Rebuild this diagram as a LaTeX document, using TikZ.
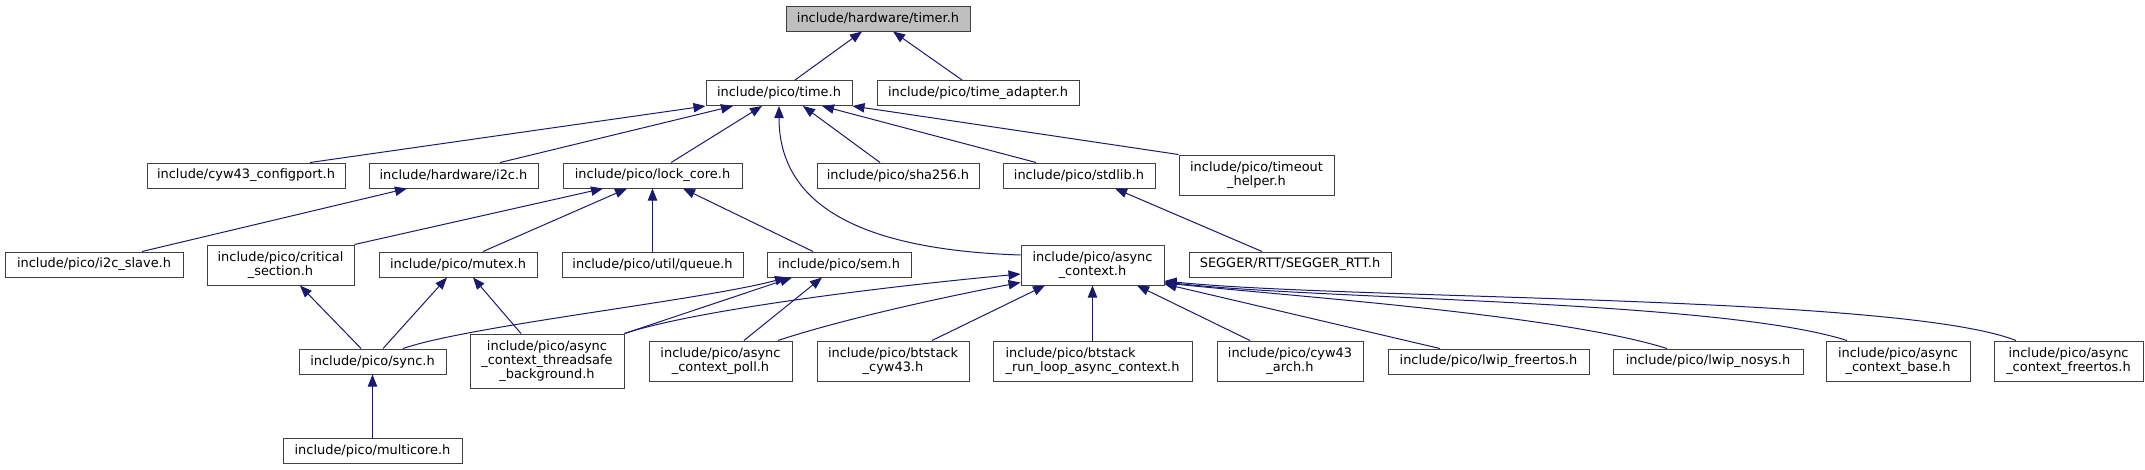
\documentclass[tikz,border=0pt]{standalone}
\usepackage{fontspec}
\setmainfont{DejaVu Sans}
\usepackage{tikz}
\usetikzlibrary{arrows.meta}
\definecolor{edgeblue}{HTML}{191970}
\definecolor{boxline}{HTML}{404040}
\definecolor{rootgrey}{HTML}{BFBFBF}

\begin{document}
\begin{tikzpicture}[x=0.75pt,y=-0.75pt,
    hdr/.style={draw=boxline,line width=0.75pt,fill=white,inner sep=1pt,align=center,
      minimum height=18.75pt,font=\fontsize{9.7}{10.5}\selectfont},
    dep/.style={edgeblue,line width=0.75pt,{Triangle[length=9pt,width=7pt]}-}]
    \useasboundingbox (0,0) rectangle (2145,469);

    % Row 0 and 1
    \node[hdr,fill=rootgrey,minimum width=138pt] (timer) at (878,18.5) {include/hardware/timer.h};
    \node[hdr,minimum width=109.5pt] (time) at (779,93) {include/pico/time.h};
    \node[hdr,minimum width=151.5pt] (timeadapter) at (978,93) {include/pico/time\_adapter.h};

    % Row 2
    \node[hdr,minimum width=148.5pt] (cyw43cfg) at (246,175.5) {include/cyw43\_configport.h};
    \node[hdr,minimum width=126.75pt] (i2c) at (453.5,175.5) {include/hardware/i2c.h};
    \node[hdr,minimum width=134.25pt] (lockcore) at (652.5,175.5) {include/pico/lock\_core.h};
    \node[hdr,minimum width=121.5pt] (sha256) at (898,175.5) {include/pico/sha256.h};
    \node[hdr,minimum width=114pt] (stdlib) at (1079,175.5) {include/pico/stdlib.h};
    \node[hdr,minimum width=116.25pt,minimum height=30pt] (timeout) at (1256.5,175) {include/pico/timeout\\\_helper.h};

    % Row 3
    \node[hdr,minimum width=133.5pt] (i2cslave) at (94,264.5) {include/pico/i2c\_slave.h};
    \node[hdr,minimum width=110.25pt,minimum height=30pt] (critsec) at (280.5,265) {include/pico/critical\\\_section.h};
    \node[hdr,minimum width=118.5pt] (mutex) at (458,264.5) {include/pico/mutex.h};
    \node[hdr,minimum width=135.75pt] (queue) at (652.5,264.5) {include/pico/util/queue.h};
    \node[hdr,minimum width=108pt] (sem) at (839,264.5) {include/pico/sem.h};
    \node[hdr,minimum width=107.25pt,minimum height=30pt] (asyncctx) at (1092.5,265) {include/pico/async\\\_context.h};
    \node[hdr,minimum width=151.5pt] (segger) at (1290,264.5) {SEGGER/RTT/SEGGER\_RTT.h};

    % Row 4
    \node[hdr,minimum width=110.25pt] (sync) at (372.5,361.5) {include/pico/sync.h};
    \node[hdr,minimum width=115.5pt,minimum height=40.5pt] (tsbg) at (547,361) {include/pico/async\\\_context\_threadsafe\\\_background.h};
    \node[hdr,minimum width=107.25pt,minimum height=30pt] (poll) at (720.5,361) {include/pico/async\\\_context\_poll.h};
    \node[hdr,minimum width=114pt,minimum height=30pt] (btcyw43) at (893,361) {include/pico/btstack\\\_cyw43.h};
    \node[hdr,minimum width=149.25pt,minimum height=30pt,align=left] (btrunloop) at (1092.5,361) {include/pico/btstack\\\_run\_loop\_async\_context.h};
    \node[hdr,minimum width=109.5pt,minimum height=30pt] (cyw43arch) at (1290,361) {include/pico/cyw43\\\_arch.h};
    \node[hdr,minimum width=150.75pt] (lwipfreertos) at (1488.5,361.5) {include/pico/lwip\_freertos.h};
    \node[hdr,minimum width=142.5pt] (lwipnosys) at (1708,361.5) {include/pico/lwip\_nosys.h};
    \node[hdr,minimum width=108pt,minimum height=30pt] (acbase) at (1898,361) {include/pico/async\\\_context\_base.h};
    \node[hdr,minimum width=111.75pt,minimum height=30pt] (acfreertos) at (2068.5,361) {include/pico/async\\\_context\_freertos.h};

    % Row 5
    \node[hdr,minimum width=134.25pt] (multicore) at (372.5,450.5) {include/pico/multicore.h};

    % Includes of timer.h and time.h
    \draw[dep] ([xshift=-12pt]timer.south) -- ([xshift=12pt]time.north);
    \draw[dep] ([xshift=11.25pt]timer.south) -- ([xshift=-12pt]timeadapter.north);
    \draw[dep] (time.south west) -- ([xshift=48pt]cyw43cfg.north);
    \draw[dep] ([xshift=-34.5pt]time.south) -- ([xshift=35pt]i2c.north);
    \draw[dep] ([xshift=-12.75pt]time.south) -- ([xshift=14pt]lockcore.north);
    \draw[dep] (time.south) .. controls +(0,104) and +(-151,-5) .. ([yshift=7.5pt]asyncctx.west);
    \draw[dep] ([xshift=18pt]time.south) -- ([xshift=-13.5pt]sha256.north);
    \draw[dep] ([xshift=32.25pt]time.south) -- ([xshift=-32.25pt]stdlib.north);
    \draw[dep] (time.south east) -- (timeout.north west);

    % Middle rows
    \draw[dep] ([xshift=-34.9pt]i2c.south) -- ([xshift=36pt]i2cslave.north);
    \draw[dep] ([xshift=-37.1pt]lockcore.south) -- (critsec.north east);
    \draw[dep] ([xshift=-19.1pt]lockcore.south) -- ([xshift=18.75pt]mutex.north);
    \draw[dep] (lockcore.south) -- (queue.north);
    \draw[dep] ([xshift=22.9pt]lockcore.south) -- ([xshift=-19.5pt]sem.north);
    \draw[dep] ([xshift=27pt]stdlib.south) -- ([xshift=-21pt]segger.north);

    % Bottom rows
    \draw[dep] ([xshift=14.6pt]critsec.south) -- ([xshift=-8.6pt]sync.north);
    \draw[dep] ([xshift=-8.25pt]mutex.south) -- ([xshift=7.9pt]sync.north);
    \draw[dep] ([xshift=-39pt]sem.south) .. controls +(-87,23) and +(67,-23) .. ([xshift=22.9pt]sync.north);
    \draw[dep] ([xshift=11.25pt]mutex.south) -- ([xshift=-19.5pt]tsbg.north);
    \draw[dep] ([xshift=-35.25pt]sem.south) -- (tsbg.north east);
    \draw[dep] ([yshift=-6.75pt]asyncctx.west) .. controls +(-120,11) and +(76,-25) .. (tsbg.north east);
    \draw[dep] ([xshift=-12.75pt]sem.south) -- ([xshift=17.6pt]poll.north);
    \draw[dep] ([yshift=2.25pt]asyncctx.south west) .. controls +(-80,15) and +(60,-20) .. ([xshift=43.1pt]poll.north);
    \draw[dep] ([xshift=-35.6pt]asyncctx.south) -- ([xshift=29.25pt]btcyw43.north);
    \draw[dep] (asyncctx.south) -- (btrunloop.north);
    \draw[dep] ([xshift=33.4pt]asyncctx.south) -- ([xshift=-30pt]cyw43arch.north);
    \draw[dep] ([yshift=-14.25pt]asyncctx.east) -- ([xshift=-36.4pt]lwipfreertos.north);
    \draw[dep] ([yshift=-13.5pt]asyncctx.east) .. controls (1300,297) and (1560,315) .. ([xshift=-30.75pt]lwipnosys.north);
    \draw[dep] ([yshift=-12.75pt]asyncctx.east) .. controls (1320,300) and (1720,300) .. ([xshift=-38.25pt]acbase.north);
    \draw[dep] ([yshift=-12pt]asyncctx.east) .. controls (1350,300) and (1900,295) .. ([xshift=-39.4pt]acfreertos.north);
    \draw[dep] (sync.south) -- (multicore.north);
\end{tikzpicture}
\end{document}
